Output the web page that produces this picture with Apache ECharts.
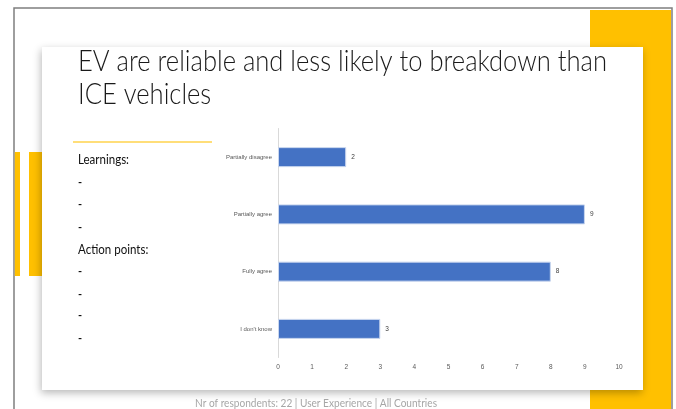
<!DOCTYPE html>
<html>
<head>
<meta charset="utf-8">
<script src="https://cdn.jsdelivr.net/npm/echarts@6/dist/echarts.min.js"></script>
<style>
  html, body { margin: 0; padding: 0; background: #ffffff; }
  #chart { width: 676px; height: 409px; }
</style>
</head>
<body>
<div id="chart"></div>
<script>
// Survey answers, top to bottom
const categories = ['Partially disagree', 'Partially agree', 'Fully agree', "I don't know"];
const counts = [2, 9, 8, 3];
const xTicks = [0, 1, 2, 3, 4, 5, 6, 7, 8, 9, 10];

const titleLines = ['EV are reliable and less likely to breakdown than', 'ICE vehicles'];
const footerText = 'Nr of respondents: 22 | User Experience | All Countries';

const FONT = "'Liberation Sans', Arial, sans-serif";
const TEXT_FONT = "Lato, 'Liberation Sans', sans-serif";
const YELLOW = '#FFC000';

// Horizontal squeeze so a wide font takes the width of a narrow one
const measureCtx = document.createElement('canvas').getContext('2d');
function squeeze(text, font, width) {
  measureCtx.font = font;
  return Math.min(1, width / measureCtx.measureText(text).width);
}

const chart = echarts.init(document.getElementById('chart'), null, { renderer: 'canvas' });

// Left-hand note lines: headings and empty bullet dashes
const notes = [
  { text: 'Learnings:', y: 160, head: true },
  { text: '-', y: 182 }, { text: '-', y: 204.5 }, { text: '-', y: 227 },
  { text: 'Action points:', y: 249.5, head: true },
  { text: '-', y: 271 }, { text: '-', y: 294 }, { text: '-', y: 315.5 }, { text: '-', y: 338 }
];

const graphics = [
  // slide frame
  { type: 'rect', shape: { x: 14, y: 8, width: 658, height: 430 },
    style: { fill: '#ffffff', stroke: '#7f7f7f', lineWidth: 1.5 } },
  // yellow accent behind the card, top right
  { type: 'rect', shape: { x: 590, y: 10, width: 81, height: 420 }, style: { fill: YELLOW } },
  // yellow accents on the left edge
  { type: 'rect', shape: { x: 14.8, y: 152, width: 5.2, height: 124 }, style: { fill: YELLOW } },
  { type: 'rect', shape: { x: 29, y: 152, width: 13, height: 124 }, style: { fill: YELLOW } },
  // white content card
  { type: 'rect', shape: { x: 42, y: 47, width: 601, height: 343 },
    style: { fill: '#ffffff', shadowColor: 'rgba(0,0,0,0.28)', shadowBlur: 8, shadowOffsetX: -1, shadowOffsetY: 3 } },
  // separator above the notes
  { type: 'line', shape: { x1: 73, y1: 142, x2: 212, y2: 142 },
    style: { stroke: '#FFD34D', lineWidth: 1.5 } }
];

// footer
const footFont = '11px ' + TEXT_FONT;
graphics.push({ type: 'text', x: 195, y: 403, scaleX: squeeze(footerText, footFont, 242),
  style: { text: footerText, font: footFont, fill: '#a6a6a6', textVerticalAlign: 'middle' } });

// title, both lines share the squeeze of the first
const titleFont = '300 28.5px ' + TEXT_FONT;
const titleScale = squeeze(titleLines[0], titleFont, 529);
titleLines.forEach((t, i) => {
  graphics.push({ type: 'text', x: 78, y: 61.5 + i * 33.5, scaleX: titleScale,
    style: { text: t, font: titleFont, fill: '#1a1a1a', textVerticalAlign: 'middle' } });
});

const headFont = '12.5px ' + TEXT_FONT;
const headScale = squeeze('Learnings:', headFont, 51);
notes.forEach(n => {
  graphics.push({ type: 'text', x: 78, y: n.y, scaleX: n.head ? headScale : 1,
    style: { text: n.text, font: n.head ? headFont : 'bold 11px ' + TEXT_FONT, fill: '#111111', textVerticalAlign: 'middle' } });
});

chart.setOption({
  animation: false,
  graphic: { elements: graphics },
  grid: { left: 278, top: 128.5, width: 341, height: 229, containLabel: false },
  xAxis: {
    type: 'value', min: xTicks[0], max: xTicks[xTicks.length - 1], interval: 1,
    axisLine: { show: false }, axisTick: { show: false }, splitLine: { show: false },
    axisLabel: { fontSize: 6.5, color: '#595959', margin: 6, fontFamily: FONT }
  },
  yAxis: {
    type: 'category', data: categories, inverse: true,
    axisLine: { show: true, lineStyle: { color: '#d9d9d9', width: 1 } },
    axisTick: { show: false },
    axisLabel: { fontSize: 6, color: '#595959', margin: 6, fontFamily: FONT }
  },
  series: [{
    type: 'bar', data: counts, barWidth: 20,
    itemStyle: { color: '#4472C4', borderColor: '#c9d6ee', borderWidth: 1 },
    label: { show: true, position: 'right', distance: 5, fontSize: 6.5, color: '#404040', fontFamily: FONT }
  }]
});
</script>
</body>
</html>
